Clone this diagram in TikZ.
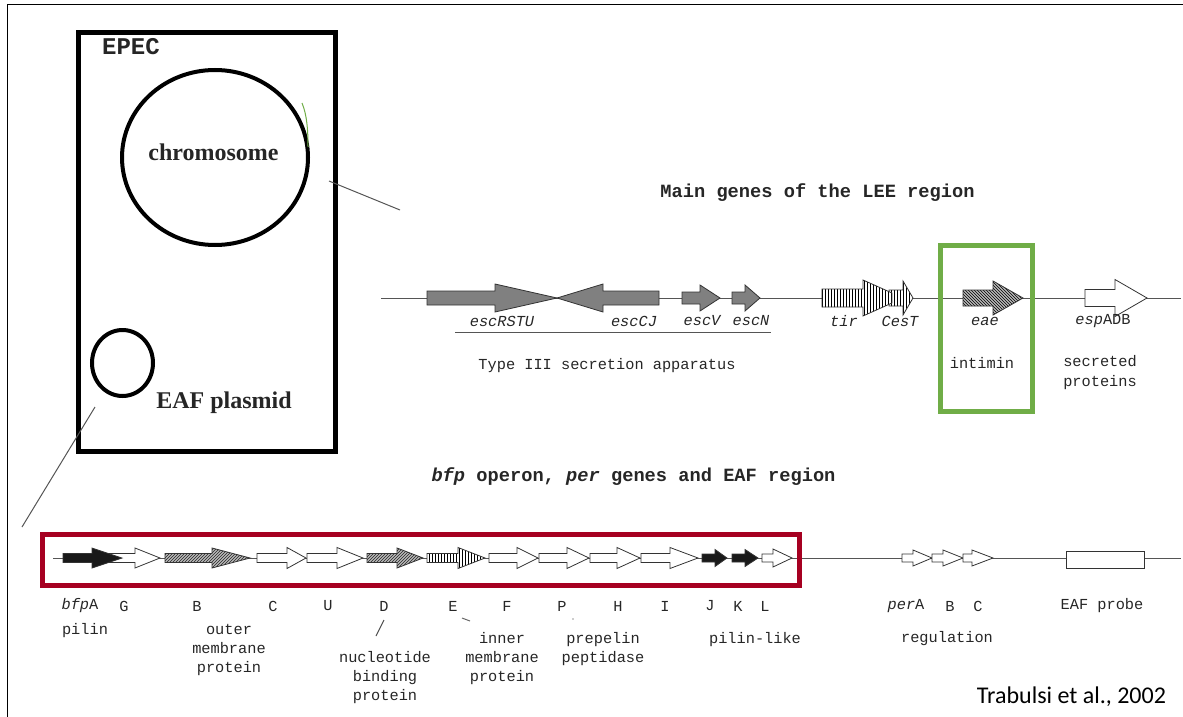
\documentclass[tikz,border=0pt]{standalone}
\usepackage{fontspec}
\setmainfont{Liberation Serif}
\setmonofont{Liberation Mono}
\newfontfamily\calib{Carlito}
\usetikzlibrary{patterns,shapes.geometric}
\definecolor{boxgreen}{RGB}{112,173,71}
\definecolor{boxred}{RGB}{166,0,33}
\definecolor{lncol}{RGB}{85,85,85}
\definecolor{genegray}{RGB}{128,128,128}
% #1 style, #2 tail x, #3 head base x, #4 tip x, #5 y, #6 shaft half height, #7 head half height
\newcommand{\genearrow}[7]{%
  \draw[#1] (#2,#5-#6) -- (#3,#5-#6) -- (#3,#5-#7) -- (#4,#5) -- (#3,#5+#7) -- (#3,#5+#6) -- (#2,#5+#6) -- cycle;}
\tikzset{
  gene/.style={draw=black!80, line width=0.8pt, line join=miter},
  wgene/.style={gene, fill=white},
  ggene/.style={gene, fill=genegray},
  hgene/.style={gene, preaction={fill=gray!55}, pattern=north east lines, pattern color=black!85},
  dgene/.style={gene, preaction={fill=gray!55}, pattern=north west lines, pattern color=black},
  vgene/.style={gene, preaction={fill=white}, pattern=vertical lines, pattern color=black},
  bgene/.style={gene, fill=black!90},
  conn/.style={draw=lncol, line width=1pt},
  dnaline/.style={draw=lncol, line width=1pt},
  lab/.style={font=\fontsize{15.3}{19}\selectfont\ttfamily, inner sep=0, text=black!85},
  ilab/.style={font=\fontsize{15.3}{19}\selectfont\ttfamily\itshape, inner sep=0, text=black!85},
  ttl/.style={font=\fontsize{18.7}{21}\selectfont\ttfamily\bfseries, inner sep=0, text=black!85},
  big/.style={font=\fontsize{24}{28}\selectfont\rmfamily\bfseries, inner sep=0, text=black!85},
}
\begin{document}
\begin{tikzpicture}[x=1pt, y=-1pt]
\useasboundingbox (0,0) rectangle (1183,717);
% outer frame
\draw[line width=1.5pt] (7.5,717) -- (7.5,4.5) -- (1183,4.5);

% EPEC cell
\node[draw, line width=5pt, minimum width=257pt, minimum height=419pt, inner sep=0] (cell) at (207,242) {};
\node[font=\fontsize{24}{28}\selectfont\ttfamily\bfseries, inner sep=0, text=black!85] (epec) at (131,47) {EPEC};
\node[ellipse, draw, line width=4pt, minimum width=186pt, minimum height=175pt, inner sep=0] (chrom) at (215,157.5) {};
\node[big] (chromlab) at (213.5,152) {chromosome};
\node[ellipse, draw, line width=4pt, minimum width=61pt, minimum height=66pt, inner sep=0] (plas) at (122.5,363) {};
\node[big] (plaslab) at (224,403) {EAF plasmid};
\draw[boxgreen, line width=1pt] (302,103) .. controls (307,115) and (308,130) .. (308,147);

% connectors
\coordinate (c1) at (329,181);
\coordinate (c2) at (400,210);
\draw[conn] (c1) -- (c2);
\coordinate (p1) at (95,407);
\coordinate (p2) at (22,527);
\draw[conn] (p1) -- (p2);

% ---------- LEE region ----------
\node[ttl] (leetitle) at (817.5,193) {Main genes of the LEE region};
\coordinate (la) at (381,298);
\coordinate (lb) at (1181,298);
\draw[dnaline] (la) -- (lb);
\genearrow{ggene}{427}{495}{557}{298}{7}{14}
\genearrow{ggene}{659}{603}{557}{298}{7}{14}
\genearrow{ggene}{682}{700}{720}{298}{6}{13}
\genearrow{ggene}{732}{745}{760}{298}{6}{13}
\genearrow{vgene}{889}{903}{913}{298}{8}{17}
\draw[vgene] (822,289) -- (863,289) -- (863,280) -- (892,293) -- (892,303) -- (863,316) -- (863,307) -- (822,307) -- cycle;
\genearrow{dgene}{963}{993}{1023}{298}{8}{17}
\genearrow{wgene}{1085}{1115}{1147}{298}{8.5}{18.5}

\node[ilab] (escRSTU) at (502,321) {escRSTU};
\node[ilab] (escCJ) at (634,321) {escCJ};
\node[ilab] (escV) at (702,321) {escV};
\node[ilab] (escN) at (751,321) {escN};
\node[ilab] (tir) at (844,321) {tir};
\node[ilab] (cesT) at (900,321) {CesT};
\node[ilab] (eae) at (985,321) {eae};
\node[lab] (espADB) at (1103,321) {\itshape esp\upshape ADB};
\coordinate (u1) at (455,332);
\coordinate (u2) at (771,332);
\draw[dnaline] (u1) -- (u2);
\node[lab] (t3ss) at (607,366) {Type III secretion apparatus};
\node[lab] (intimin) at (982,363) {intimin};
\node[lab, align=center, font=\fontsize{15.3}{20}\selectfont\ttfamily] (secr) at (1100,373) {secreted\\ proteins};
\node[draw=boxgreen, line width=5pt, minimum width=92pt, minimum height=166pt, inner sep=0] (greenbox) at (986.5,328.5) {};

% ---------- bfp / per / EAF ----------
\node[ttl] (bfptitle) at (633.5,477) {\itshape bfp\upshape{} operon, \itshape per\upshape{} genes and EAF region};
\coordinate (ma) at (53,558);
\coordinate (mb) at (1181,558);
\draw[dnaline] (ma) -- (mb);
\genearrow{wgene}{100}{135}{160}{558}{4.5}{10}
\genearrow{bgene}{63}{92}{122}{558}{4.5}{10}
\genearrow{hgene}{165}{212}{250}{558}{4.5}{10}
\genearrow{wgene}{257}{287}{306}{558}{4.5}{10.5}
\genearrow{wgene}{307}{337}{363}{558}{4.5}{10.5}
\genearrow{hgene}{367}{397}{423}{558}{4.5}{10}
\genearrow{vgene}{427}{458}{485}{558}{4.5}{10.5}
\genearrow{wgene}{489}{517}{538}{558}{4.5}{10.5}
\genearrow{wgene}{539}{567}{589}{558}{4.5}{10.5}
\genearrow{wgene}{590}{617}{640}{558}{4.5}{10.5}
\genearrow{wgene}{641}{670}{698}{558}{4.5}{10.5}
\genearrow{bgene}{702}{715}{727}{558}{4}{8.5}
\genearrow{bgene}{732}{745}{758}{558}{4}{8.5}
\genearrow{wgene}{762}{773}{792}{558}{4}{9}
\genearrow{wgene}{902}{913}{932}{558}{4}{8}
\genearrow{wgene}{932}{943}{963}{558}{4}{8}
\genearrow{wgene}{963}{972}{993}{558}{4}{8}
\node[draw=black!80, line width=0.8pt, fill=white, minimum width=78pt, minimum height=17pt, inner sep=0] (eafprobe) at (1105,559.5) {};
\node[draw=boxred, line width=5pt, minimum width=757pt, minimum height=51pt, inner sep=0] (redbox) at (421,560) {};

\node[lab] (lbfpA) at (80,606) {\itshape bfp\upshape A};
\node[lab] (lG) at (124,606) {G};
\node[lab] (lB) at (197,606) {B};
\node[lab] (lC) at (273,606) {C};
\node[lab] (lU) at (328,606) {U};
\node[lab] (lD) at (384,606) {D};
\node[lab] (lE) at (453,606) {E};
\node[lab] (lF) at (507,606) {F};
\node[lab] (lP) at (562,606) {P};
\node[lab] (lH) at (618,606) {H};
\node[lab] (lI) at (665,606) {I};
\node[lab] (lJ) at (710,606) {J};
\node[lab] (lK) at (738,606) {K};
\node[lab] (lL) at (765,606) {L};
\node[lab] (lperA) at (906,606) {\itshape per\upshape A};
\node[lab] (lpB) at (950,606) {B};
\node[lab] (lpC) at (978,606) {C};
\node[lab] (leaf) at (1102,606) {EAF probe};

\node[lab] (pilin) at (85,631) {pilin};
\node[lab, align=center] (omp) at (229,649.5) {outer\\ membrane\\ protein};
\draw[black!70, line width=1pt] (376,636) -- (384,620);
\node[lab, align=center] (nbp) at (385,677.5) {nucleotide\\ binding\\ protein};
\draw[black!60, line width=1pt] (462,618) -- (470,621);
\fill[black!40] (573,619) circle (0.8);
\node[lab, align=center] (imp) at (502,658.5) {inner\\ membrane\\ protein};
\node[lab, align=center] (prep) at (603,649.5) {prepelin\\ peptidase};
\node[lab] (pilinlike) at (755,640) {pilin-like};
\node[lab] (regul) at (947,639) {regulation};

\node[font=\fontsize{24}{28}\selectfont\calib, inner sep=0] (cite) at (1071.5,697) {Trabulsi et al., 2002};
\end{tikzpicture}
\end{document}
